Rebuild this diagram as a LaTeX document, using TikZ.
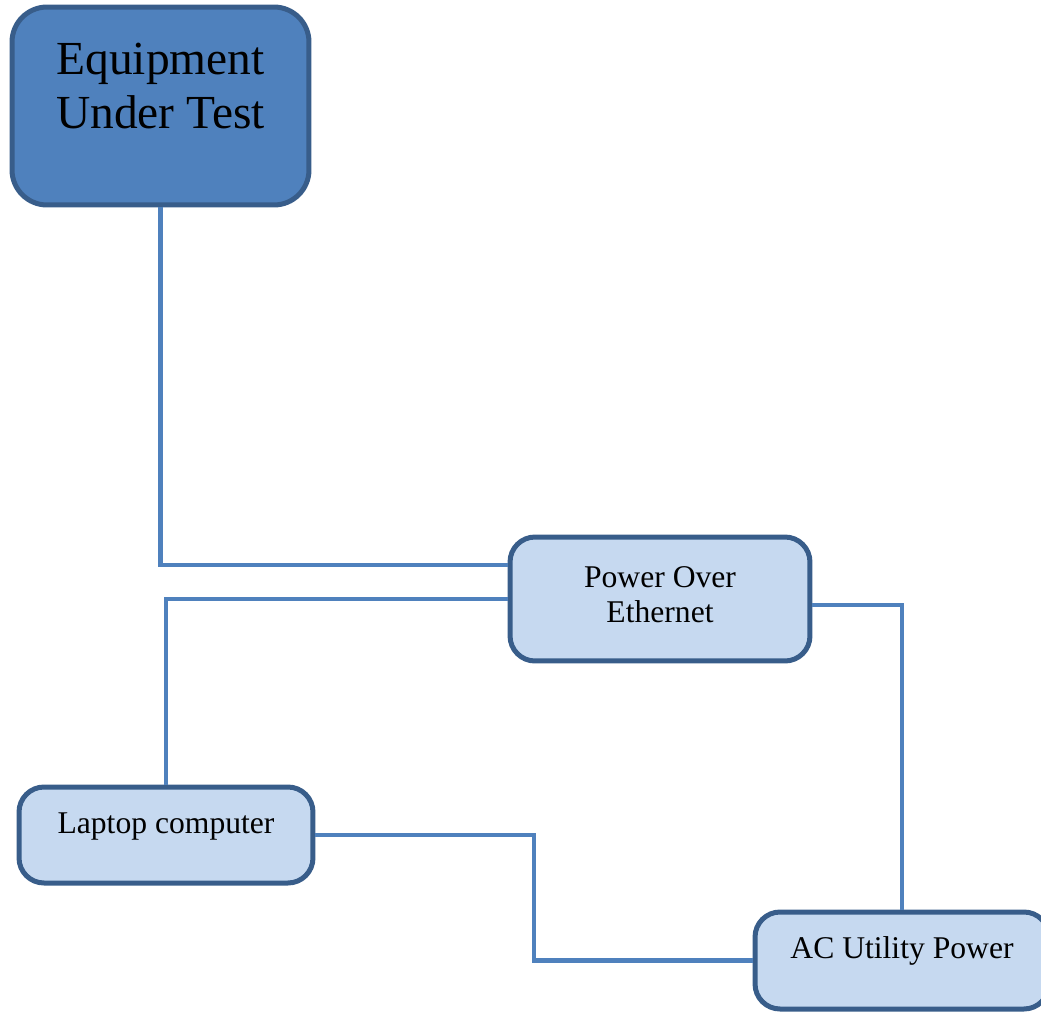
\documentclass[tikz,border=0pt]{standalone}
\usepackage{fontspec}
\setmainfont{Liberation Serif}
\usepackage{tikz}
\usetikzlibrary{positioning, calc}
\definecolor{myblue}{RGB}{79,129,189}
\definecolor{myborder}{RGB}{56,93,138}
\definecolor{mylight}{RGB}{198,217,240}
\tikzset{
  mainblock/.style={rectangle, draw=myborder, fill=myblue,
    minimum width=5.94cm, minimum height=3.96cm,
    rounded corners=0.7cm, line width=0.1cm},
  subblock/.style={rectangle, draw=myborder, fill=mylight,
    rounded corners=0.5cm, line width=0.1cm},
  bigtext/.style={align=center, inner sep=0pt,
    font=\fontsize{27}{31}\selectfont},
  smalltext/.style={align=center, inner sep=0pt,
    font=\fontsize{18}{20}\selectfont},
  wire/.style={draw=myblue, line width=0.09cm}
}

\begin{document}
\begin{tikzpicture}[x=0.02cm, y=-0.02cm]
  \useasboundingbox (0,0) rectangle (1041,1011);
  % Boxes
  \node[mainblock] (eut) at (160.5,106) {};
  \node[subblock, minimum width=6cm, minimum height=2.48cm] (poe) at (660,599) {};
  \node[subblock, minimum width=5.88cm, minimum height=1.92cm] (lap) at (166,835) {};
  \node[subblock, minimum width=5.88cm, minimum height=1.94cm] (ac) at (902,960.5) {};

  % Wires
  \draw[wire] (eut.south) |- ([yshift=0.68cm]poe.west);
  \draw[wire] (poe.west) -| (lap.north);
  \draw[wire] ([yshift=-0.12cm]poe.east) -| (ac.north);
  \draw[wire] (lap.east) -| ($(lap.east)!0.5!(ac.west)$) |- (ac.west);

  % Labels
  \node[bigtext, below=0.76cm] (euttxt) at (eut.north) {Equipment\\Under Test};
  \node[smalltext, below=0.64cm] (poetxt) at (poe.north) {Power Over\\Ethernet};
  \node[smalltext, below=0.56cm] (laptxt) at (lap.north) {Laptop computer};
  \node[smalltext, below=0.54cm] (actxt) at (ac.north) {AC Utility Power};
\end{tikzpicture}
\end{document}
